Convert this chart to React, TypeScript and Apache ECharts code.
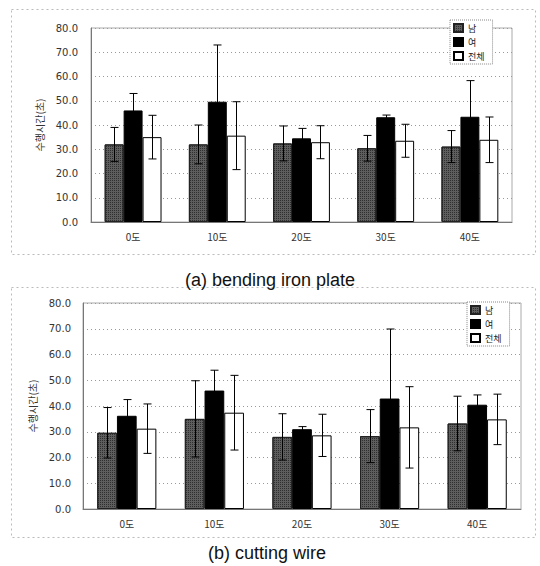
import React, { useEffect, useRef } from "react";
import * as echarts from "echarts";

const categories = ["0도", "10도", "20도", "30도", "40도"];
const seriesNames = ["남", "여", "전체"];

// (a) bending iron plate
const aMale = [32.0, 32.0, 32.4, 30.4, 31.1];
const aMaleErr = [7.0, 8.0, 7.2, 5.3, 6.6];
const aFemale = [46.0, 49.6, 34.5, 43.2, 43.4];
const aFemaleErr = [7.0, 23.4, 4.1, 0.9, 14.9];
const aTotal = [35.0, 35.6, 32.9, 33.5, 33.9];
const aTotalErr = [9.0, 14.0, 6.8, 6.8, 9.4];

// (b) cutting wire
const bMale = [29.6, 35.0, 28.0, 28.3, 33.2];
const bMaleErr = [9.8, 14.8, 9.0, 10.3, 10.6];
const bFemale = [36.2, 46.0, 31.0, 42.9, 40.5];
const bFemaleErr = [6.3, 7.9, 1.0, 27.0, 3.8];
const bTotal = [31.2, 37.4, 28.6, 31.7, 34.8];
const bTotalErr = [9.6, 14.5, 8.2, 15.8, 9.8];

const captions = ["(a) bending iron plate", "(b) cutting wire"];
const yName = "수행시간(초)";

const BAR_FRAC = 0.225;
const KFONT = "'Noto Sans CJK KR', 'DejaVu Sans', sans-serif";

const maleStyle = {
  color: "#5e5e5e",
  borderColor: "#222",
  borderWidth: 1,
  decal: {
    symbol: "rect",
    symbolSize: 1,
    color: "rgba(15,15,15,0.6)",
    dashArrayX: [1, 1],
    dashArrayY: [1, 1],
  },
};
const femaleStyle = { color: "#000", borderColor: "#000", borderWidth: 1 };
const totalStyle = { color: "#fff", borderColor: "#000", borderWidth: 1 };
const styles = [maleStyle, femaleStyle, totalStyle];

function barSeries(idx: number, data: number[], g: number) {
  return {
    type: "bar",
    name: seriesNames[idx],
    xAxisIndex: g,
    yAxisIndex: g,
    data,
    barWidth: BAR_FRAC * 100 + "%",
    barGap: "0%",
    itemStyle: styles[idx],
    emphasis: { disabled: true },
  };
}

function errSeries(idx: number, means: number[], errs: number[], g: number) {
  return {
    type: "custom",
    xAxisIndex: g,
    yAxisIndex: g,
    z: 10,
    silent: true,
    data: means.map((m, i) => [i, m - errs[i], m + errs[i]]),
    encode: { x: 0, y: [1, 2] },
    renderItem: (_p: any, api: any) => {
      const x = api.value(0);
      const lo = api.coord([x, api.value(1)]);
      const hi = api.coord([x, api.value(2)]);
      const band = api.size([1, 0])[0];
      const cx = Math.round(lo[0] + (idx - 1) * band * BAR_FRAC) + 0.5;
      const cap = 4;
      const st = { stroke: "#000", lineWidth: 1 };
      return {
        type: "group",
        children: [
          { type: "line", shape: { x1: cx, y1: lo[1], x2: cx, y2: hi[1] }, style: st },
          { type: "line", shape: { x1: cx - cap, y1: hi[1], x2: cx + cap, y2: hi[1] }, style: st },
          { type: "line", shape: { x1: cx - cap, y1: lo[1], x2: cx + cap, y2: lo[1] }, style: st },
        ],
      };
    },
  };
}

function xAxis(g: number) {
  return {
    type: "category",
    gridIndex: g,
    data: categories,
    axisLine: { show: true, lineStyle: { color: "#777", width: 1 } },
    axisTick: { show: false },
    axisLabel: { color: "#333", fontSize: 10, fontFamily: KFONT, margin: 9 },
  };
}

function yAxis(g: number) {
  return {
    type: "value",
    gridIndex: g,
    min: 0,
    max: 80,
    interval: 10,
    name: yName,
    nameLocation: "middle",
    nameGap: g === 0 ? 43 : 44,
    nameRotate: 90,
    nameTextStyle: { color: "#333", fontSize: 10, fontFamily: KFONT },
    axisLine: { show: true, lineStyle: { color: "#777", width: 1 } },
    axisTick: { show: false },
    axisLabel: {
      color: "#333",
      fontSize: 10,
      fontFamily: "'DejaVu Sans', sans-serif",
      margin: g === 0 ? 13 : 12,
      formatter: (v: number) => v.toFixed(1),
    },
    splitLine: { show: true, lineStyle: { color: "#999", type: [1, 3], width: 1 } },
  };
}

function legend(g: number) {
  return {
    show: true,
    data: seriesNames.map((n) => ({ name: n, icon: "rect" })),
    orient: "vertical",
    left: g === 0 ? 450 : 467,
    top: g === 0 ? 20 : 302,
    itemWidth: 9,
    itemHeight: 8,
    itemGap: 4,
    padding: [3, 8, 3, 3],
    backgroundColor: "#fff",
    borderColor: "#888",
    borderWidth: 1,
    borderType: "dotted",
    textStyle: { fontSize: 9, color: "#222", fontFamily: KFONT, lineHeight: 9 },
    selectedMode: false,
  };
}

export default function App() {
  const ref = useRef<HTMLDivElement>(null);
  useEffect(() => {
    document.body.style.margin = "0";
    const chart = echarts.init(ref.current!, undefined, { renderer: "svg" });
    chart.setOption({
      animation: false,
      backgroundColor: "#fff",
      textStyle: { fontFamily: KFONT },
      title: [
        {
          text: captions[0],
          left: 265,
          top: 266,
          textAlign: "center",
          textStyle: { fontFamily: "'Liberation Sans', Arial, sans-serif", fontSize: 18, fontWeight: "normal", color: "#111" },
        },
        {
          text: captions[1],
          left: 267,
          top: 544,
          textAlign: "center",
          textStyle: { fontFamily: "'Liberation Sans', Arial, sans-serif", fontSize: 18, fontWeight: "normal", color: "#111" },
          padding: 0,
        },
      ],
      legend: [legend(0), legend(1)],
      grid: [
        { left: 91, right: 28, top: 28, height: 194, show: true, borderColor: "#aaa", borderWidth: 1 },
        { left: 83, right: 19, top: 303, height: 206, show: true, borderColor: "#aaa", borderWidth: 1 },
      ],
      xAxis: [xAxis(0), xAxis(1)],
      yAxis: [yAxis(0), yAxis(1)],
      graphic: [
        {
          type: "rect",
          shape: { x: 11.5, y: 9.5, width: 524, height: 245 },
          style: { fill: "none", stroke: "#bbb", lineWidth: 1, lineDash: [2, 3] },
          silent: true,
          z: -1,
        },
        {
          type: "rect",
          shape: { x: 11.5, y: 287.5, width: 524, height: 250 },
          style: { fill: "none", stroke: "#bbb", lineWidth: 1, lineDash: [2, 3] },
          silent: true,
          z: -1,
        },
      ],
      series: [
        barSeries(0, aMale, 0),
        barSeries(1, aFemale, 0),
        barSeries(2, aTotal, 0),
        barSeries(0, bMale, 1),
        barSeries(1, bFemale, 1),
        barSeries(2, bTotal, 1),
        errSeries(0, aMale, aMaleErr, 0),
        errSeries(1, aFemale, aFemaleErr, 0),
        errSeries(2, aTotal, aTotalErr, 0),
        errSeries(0, bMale, bMaleErr, 1),
        errSeries(1, bFemale, bFemaleErr, 1),
        errSeries(2, bTotal, bTotalErr, 1),
      ],
    });
    return () => chart.dispose();
  }, []);
  return (
    <div
      ref={ref}
      style={{ position: "absolute", left: 0, top: 0, width: 540, height: 566 }}
    />
  );
}
